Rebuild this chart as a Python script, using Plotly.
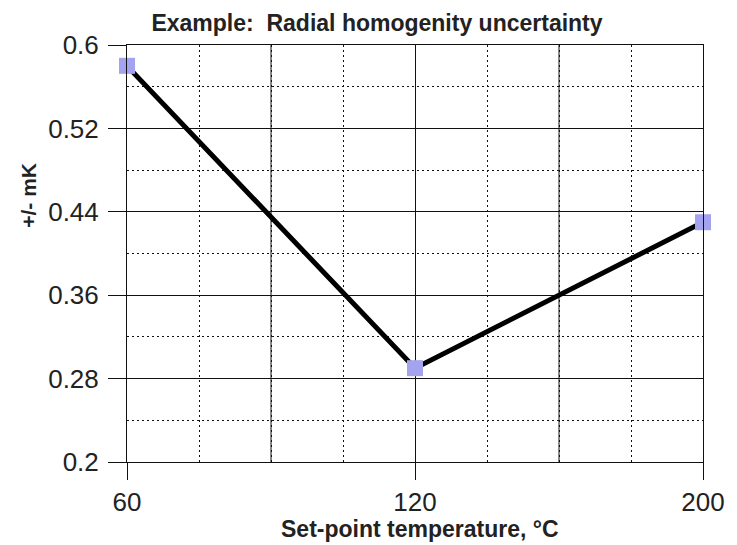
import plotly.graph_objects as go

# set-point temperatures (equally spaced categories) and uncertainty
temps = ["60", "120", "200"]
uncert = [0.58, 0.29, 0.43]

y_ticks = [0.2, 0.28, 0.36, 0.44, 0.52, 0.6]
y_tick_text = ["0.2", "0.28", "0.36", "0.44", "0.52", "0.6"]

pos = list(range(len(temps)))
mid_pos = [0.5, 1.5]  # solid gridlines between the category ticks

fig = go.Figure()
fig.add_trace(go.Scatter(
    x=pos, y=uncert, mode="lines+markers",
    line=dict(color="black", width=5),
    marker=dict(symbol="square", size=16, color="#a3a3f0"),
    cliponaxis=False, showlegend=False,
))

font = "Liberation Sans, Arial, sans-serif"
W, H = 737, 545
# plot width 586 puts the mid gridlines on half pixels so they stay crisp
L, R, T, B = 127, 24, 45, 83
pw, ph = W - L - R, H - T - B
grid = "#111"

for xv in mid_pos:
    fig.add_vline(x=xv, line=dict(color=grid, width=1), layer="below")


def px_x(x):
    return (x - L) / pw


def px_y(y):
    return (H - B - y) / ph


fig.update_layout(
    width=W, height=H,
    margin=dict(l=L, r=R, t=T, b=B),
    paper_bgcolor="white", plot_bgcolor="white",
    font=dict(family=font, color="black"),
    title=dict(text="<b>Example:\u00a0 Radial homogenity uncertainty</b>",
               x=377 / W, xanchor="center", y=1 - 23 / H, yanchor="middle",
               font=dict(size=23, color="#222")),
    annotations=[
        dict(text="<b>Set-point temperature, °C</b>", xref="paper", yref="paper",
             x=px_x(425), y=px_y(529), xanchor="center", yanchor="middle",
             showarrow=False, font=dict(size=23, color="#222")),
        dict(text="<b>+/- mK</b>", xref="paper", yref="paper", textangle=-90,
             x=px_x(26), y=px_y(195), xanchor="center", yanchor="middle",
             showarrow=False, font=dict(size=21, color="#222")),
    ],
)

fig.update_xaxes(
    range=[0, 2], tickvals=pos, ticktext=temps,
    ticks="outside", ticklen=17, tickcolor=grid, tickwidth=1,
    tickfont=dict(size=26, color="#222"),
    showline=True, linecolor=grid, linewidth=1, mirror=True,
    showgrid=True, gridcolor=grid, gridwidth=1,
    minor=dict(dtick=0.25, showgrid=True, gridcolor=grid, griddash="2px,3px", gridwidth=1),
    zeroline=False,
)
fig.update_yaxes(
    range=[0.2, 0.6], tickvals=y_ticks, ticktext=y_tick_text,
    ticks="outside", ticklen=18, tickcolor=grid, tickwidth=1,
    tickfont=dict(size=26, color="#222"), ticklabelstandoff=4,
    showline=True, linecolor=grid, linewidth=1, mirror=True,
    showgrid=True, gridcolor=grid, gridwidth=1,
    minor=dict(dtick=0.04, tick0=0.2, showgrid=True, gridcolor=grid, griddash="2px,3px", gridwidth=1),
    zeroline=False,
)

# drop the default page margin so the figure fills the window exactly
fig.write_html("out.html", config={"displayModeBar": False},
               post_script="document.body.style.margin='0';document.body.style.overflow='hidden';")
